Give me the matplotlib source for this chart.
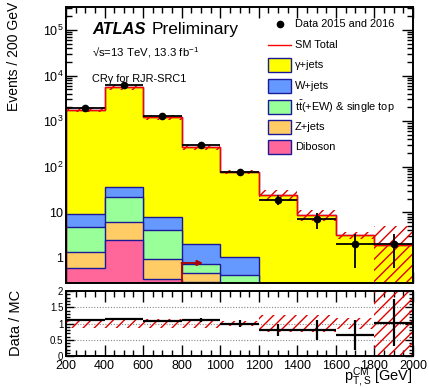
import numpy as np
import matplotlib
matplotlib.use("Agg")
import matplotlib.pyplot as plt
from matplotlib.patches import Rectangle
from matplotlib.lines import Line2D
from matplotlib.ticker import MultipleLocator, FixedLocator, LogLocator, FuncFormatter, NullFormatter

plt.rcParams["font.family"] = ["Liberation Sans", "DejaVu Sans"]
plt.rcParams["mathtext.fontset"] = "custom"
plt.rcParams["mathtext.rm"] = "Liberation Sans"
plt.rcParams["mathtext.it"] = "Liberation Sans:italic"
plt.rcParams["mathtext.bf"] = "Liberation Sans:bold"
plt.rcParams["hatch.linewidth"] = 1.0

# ---- binning and yields ----
bin_edges = [200, 400, 600, 800, 1000, 1200, 1400, 1600, 1800, 2000]
data_counts = [1990, 6200, 1320, 300, 77, 19, 7, 2, 2]
gamma_jets = [1770, 5460, 1210, 268, 76, 24, 8.8, 3.1, 1.95]
w_jets = [4.5, 15.2, 3.95, 1.3, 0.62, 0, 0, 0, 0]
ttbar_top = [3.4, 15.3, 3.16, 0.27, 0.27, 0, 0, 0, 0]
z_jets = [0.74, 3.7, 0.6, 0.16, 0.1, 0, 0, 0, 0]
diboson = [0.59, 2.4, 0.34, 0.30, 0.05, 0, 0, 0, 0]
mc_unc_frac = [0.13, 0.13, 0.13, 0.13, 0.09, 0.27, 0.27, 0.16, 1.5]
cut_value = 800
cut_arrow_level = 0.77
cut_arrow_length = 110

edges = np.array(bin_edges, dtype=float)
centers = 0.5 * (edges[:-1] + edges[1:])
half_w = 0.5 * np.diff(edges)
data = np.array(data_counts, dtype=float)

# stacking order, bottom to top
components = [
    ("Diboson", diboson, "#ff6699"),
    ("Z+jets", z_jets, "#ffcc66"),
    (r"$\mathrm{t\bar{t}}$(+EW) & single top", ttbar_top, "#99ff99"),
    ("W+jets", w_jets, "#6699ff"),
    ("\u03b3+jets", gamma_jets, "#ffff00"),
]
cum = []
running = np.zeros(len(data))
for name, vals, col in components:
    running = running + np.array(vals, dtype=float)
    cum.append(running.copy())
sm_total = running
unc = np.array(mc_unc_frac) * sm_total
ratio = data / sm_total
ratio_err = np.sqrt(data) / sm_total
ratio_unc = np.array(mc_unc_frac)

W, H = 429, 388
fig = plt.figure(figsize=(W / 100, H / 100), dpi=100)


def fx(px):
    return px / W


def fy(py):
    return 1 - py / H


ax = fig.add_axes([fx(66), fy(283), fx(413) - fx(66), fy(7) - fy(283)])
axr = fig.add_axes([fx(66), fy(356), fx(413) - fx(66), fy(291) - fy(356)])

edge_col = "#1a1a99"
ymin, ymax = 0.28, 3.2e5

# stacked histograms, tallest first so each lower one sits on top
for (name, vals, col), top in reversed(list(zip(components, cum))):
    ax.stairs(top, edges, baseline=1e-3, fill=True, facecolor=col,
              edgecolor=edge_col, linewidth=1.0, zorder=2)

# MC uncertainty band
lo = np.clip(sm_total - unc, 1e-3, None)
ax.stairs(sm_total + unc, edges, baseline=lo, fill=True, facecolor="none",
          edgecolor="#dd0000", hatch="///", linewidth=0, zorder=3)
ax.stairs(sm_total, edges, color="red", linewidth=1.0, zorder=4)

# selection arrow
ax.plot([cut_value, cut_value], [ymin, cut_arrow_level], color="#aa0000", lw=1.3, zorder=5)
ax.annotate("", xy=(cut_value + cut_arrow_length, cut_arrow_level),
            xytext=(cut_value - 1, cut_arrow_level),
            arrowprops=dict(arrowstyle="-|>", color="#aa0000", lw=1.3,
                            mutation_scale=8, shrinkA=0, shrinkB=0), zorder=5)

ax.errorbar(centers, data, xerr=half_w, yerr=np.sqrt(data), fmt="o", color="black",
            ms=4.5, elinewidth=1.3, capsize=0, zorder=6)

ax.set_yscale("log")
ax.set_xlim(edges[0], edges[-1])
ax.set_ylim(ymin, ymax)


def log_label(v, pos):
    e = int(round(np.log10(v)))
    if e == 0:
        return "1"
    if e == 1:
        return "10"
    return r"$10^{%d}$" % e


ax.yaxis.set_major_locator(LogLocator(base=10, numticks=10))
ax.yaxis.set_minor_locator(LogLocator(base=10, subs=np.arange(2, 10), numticks=20))
ax.yaxis.set_major_formatter(FuncFormatter(log_label))
ax.yaxis.set_minor_formatter(NullFormatter())
ax.xaxis.set_major_locator(MultipleLocator(200))
ax.xaxis.set_minor_locator(MultipleLocator(50))
ax.tick_params(labelbottom=False)

# ratio panel
axr.stairs(1 + ratio_unc, edges, baseline=np.clip(1 - ratio_unc, 0, None), fill=True,
           facecolor="none", edgecolor="#dd0000", hatch="///", linewidth=0, zorder=2)
for lvl in (0.5, 1.0, 1.5):
    axr.axhline(lvl, color="#888888", lw=0.8, ls=(0, (1, 1.5)), zorder=1)
axr.errorbar(centers, ratio, xerr=half_w, yerr=ratio_err, fmt="none", ecolor="black",
             elinewidth=1.6, capsize=0, zorder=4)
axr.set_xlim(edges[0], edges[-1])
axr.set_ylim(0, 2)
axr.yaxis.set_major_locator(FixedLocator([0, 0.5, 1, 1.5, 2]))
axr.yaxis.set_major_formatter(FuncFormatter(lambda v, p: "%g" % v))
axr.yaxis.set_minor_locator(MultipleLocator(0.1))
axr.xaxis.set_major_locator(MultipleLocator(200))
axr.xaxis.set_minor_locator(MultipleLocator(50))

for a in (ax, axr):
    a.tick_params(which="both", direction="in", top=True, right=True, width=1.0)
    a.tick_params(which="major", length=8)
    a.tick_params(which="minor", length=4)
    for s in a.spines.values():
        s.set_linewidth(1.4)
        s.set_zorder(10)
ax.tick_params(axis="y", which="major", labelsize=9, pad=2)
axr.tick_params(axis="y", which="major", labelsize=7, pad=2, length=6)
axr.tick_params(axis="y", which="minor", length=3)
axr.tick_params(axis="x", which="major", labelsize=9, pad=3)

# axis titles
fig.text(fx(14), fy(2), "Events / 200 GeV", rotation=90, ha="center", va="top", fontsize=10)
fig.text(fx(16), fy(323), "Data / MC", rotation=90, ha="center", va="center", fontsize=10.5)
fig.text(fx(413), fy(382), r"p$_{\mathrm{T,S}}^{\mathrm{CM}}$ [GeV]", ha="right",
         va="baseline", fontsize=10.5)

# labels
fig.text(fx(92), fy(34), "ATLAS", fontsize=11.8, fontweight="bold", style="italic")
fig.text(fx(152), fy(34), "Preliminary", fontsize=12.5)
fig.text(fx(92), fy(56), "\u221as=13 TeV, 13.3 fb$^{-1}$", fontsize=8.2)
fig.text(fx(92), fy(82), "CR\u03b3 for RJR-SRC1", fontsize=7.9)

# legend
rows = [24, 45, 65, 86, 107, 127, 147]
txt_x = fx(295)
fig.lines.append(Line2D([fx(280)], [fy(rows[0])], marker="o", color="black", ms=4.5,
                        transform=fig.transFigure))
fig.text(txt_x, fy(rows[0]), "Data 2015 and 2016", va="center", fontsize=7.9)
fig.lines.append(Line2D([fx(268), fx(291)], [fy(rows[1])] * 2, color="red", lw=1.0,
                        transform=fig.transFigure))
fig.text(txt_x, fy(rows[1]), "SM Total", va="center", fontsize=7.9)
for (name, vals, col), r in zip(reversed(components), rows[2:]):
    fig.patches.append(Rectangle((fx(268), fy(r + 7)), fx(291) - fx(268), fy(r - 7) - fy(r + 7),
                                 facecolor=col, edgecolor=edge_col, lw=1.0,
                                 transform=fig.transFigure))
    fig.text(txt_x, fy(r), name, va="center", fontsize=7.9)

fig.savefig("out.png", dpi=100)
